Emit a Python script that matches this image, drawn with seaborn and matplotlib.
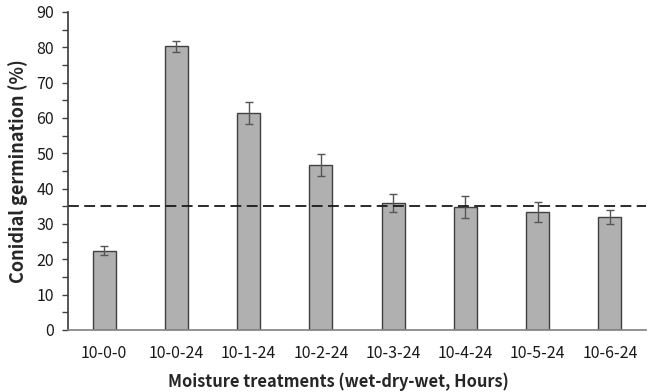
import matplotlib
matplotlib.use("Agg")
import matplotlib.pyplot as plt
import seaborn as sns
import pandas as pd
from matplotlib.ticker import MultipleLocator

treatments = ["10-0-0", "10-0-24", "10-1-24", "10-2-24", "10-3-24", "10-4-24", "10-5-24", "10-6-24"]
germination = [22.4, 80.3, 61.3, 46.6, 35.9, 34.8, 33.4, 32.0]
errors = [1.3, 1.6, 3.1, 3.1, 2.5, 3.1, 2.9, 2.1]
reference_level = 35.0

sns.set_theme(style="white")
plt.rcParams['font.family'] = ['Noto Sans CJK KR', 'DejaVu Sans']

df = pd.DataFrame({"treatment": treatments, "germination": germination})

fig = plt.figure(figsize=(6.48, 3.92), dpi=100)
ax = fig.add_axes([68/648, 1 - 330/392, 1 - 68/648 - 2/648, (330 - 12)/392])

sns.barplot(data=df, x="treatment", y="germination", ax=ax, color="#b0b0b0",
            width=0.32, edgecolor="#404040", linewidth=1.0, saturation=1)
ax.errorbar(range(len(treatments)), germination, yerr=errors, fmt="none",
            ecolor="#555555", elinewidth=1.0, capsize=3, capthick=1.0)
ax.axhline(reference_level, color="#1a1a1a", linestyle=(0, (6, 3)), linewidth=1.3)

ax.set_xlim(-0.5, len(treatments) - 0.5)
ax.set_ylim(0, 90)
ax.yaxis.set_major_locator(MultipleLocator(10))
ax.yaxis.set_minor_locator(MultipleLocator(5))
ax.tick_params(axis="y", which="both", left=True, direction="out", length=4,
               width=1, color="#404040", labelsize=11.5, labelcolor="#1a1a1a", pad=6)
ax.tick_params(axis="x", bottom=False, labelsize=11.5, labelcolor="#1a1a1a", pad=5)
for s in ["top", "right"]:
    ax.spines[s].set_visible(False)
ax.spines["left"].set_color("#404040")
ax.spines["bottom"].set_color("#808080")
ax.spines["bottom"].set_linewidth(1.2)

ax.set_xlabel("Moisture treatments (wet-dry-wet, Hours)", fontsize=11.8, fontweight="bold")
ax.xaxis.set_label_coords(0.467, -0.135)
ax.set_ylabel("Conidial germination (%)", fontsize=13, fontweight="bold", labelpad=6)

fig.savefig("out.png", dpi=100)
